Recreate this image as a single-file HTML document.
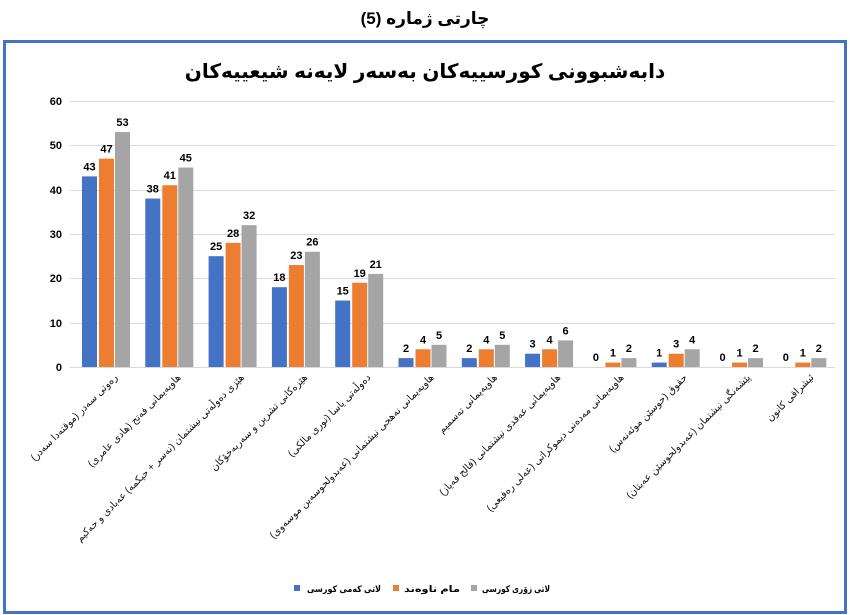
<!DOCTYPE html>
<html><head><meta charset="utf-8"><style>
body{margin:0;background:#fff;width:850px;height:615px;overflow:hidden}
svg{display:block}
text{font-family:"Liberation Sans","DejaVu Sans",sans-serif}
</style></head><body>
<svg width="850" height="615" xmlns="http://www.w3.org/2000/svg">
<text x="425" y="24" text-anchor="middle" font-size="17" font-weight="bold">چارتی ژمارە (5)</text>
<rect x="4.5" y="41.5" width="841" height="571" fill="#fff" stroke="#4472c4" stroke-width="3"/>
<text x="425" y="78" text-anchor="middle" font-size="20" font-weight="bold">دابەشبوونی کورسییەکان بەسەر لایەنە شیعییەکان</text>
<g stroke="#d9d9d9" stroke-width="1">
<line x1="70" x2="835" y1="101.5" y2="101.5"/>
<line x1="70" x2="835" y1="145.5" y2="145.5"/>
<line x1="70" x2="835" y1="190.5" y2="190.5"/>
<line x1="70" x2="835" y1="234.5" y2="234.5"/>
<line x1="70" x2="835" y1="278.5" y2="278.5"/>
<line x1="70" x2="835" y1="323.5" y2="323.5"/>
<line x1="70" x2="835" y1="367.5" y2="367.5"/>
</g>
<g font-size="11" font-weight="bold" text-anchor="end" fill="#000">
<text x="62" y="105">60</text><text x="62" y="149">50</text><text x="62" y="194">40</text>
<text x="62" y="238">30</text><text x="62" y="282">20</text><text x="62" y="327">10</text><text x="62" y="371">0</text>
</g>
<g id="bars"></g>
<g id="labels"></g>
<g font-size="9" font-weight="bold">
<rect x="294" y="585" width="6" height="6" fill="#4472c4"/>
<text x="381" y="592" text-anchor="end" textLength="74" lengthAdjust="spacingAndGlyphs">لاتی کەمی کورسی</text>
<rect x="393" y="585" width="6" height="6" fill="#ed7d31"/>
<text x="460" y="592" text-anchor="end" textLength="56" lengthAdjust="spacingAndGlyphs">مام ناوەند</text>
<rect x="471" y="585" width="6" height="6" fill="#a5a5a5"/>
<text x="550" y="592" text-anchor="end" textLength="68" lengthAdjust="spacingAndGlyphs">لاتی زۆری کورسی</text>
</g>
</svg>
<script>
var data=[[43,47,53],[38,41,45],[25,28,32],[18,23,26],[15,19,21],[2,4,5],[2,4,5],[3,4,6],[0,1,2],[1,3,4],[0,1,2],[0,1,2]];
var labels=["رەوتی سەدر (موقتەدا سەدر)","هاوپەیمانی فەتح (هادی عامری)","هێزی دەوڵەتی نیشتمان (نەسر + حیکمە) عەبادی و حەکیم","هێزەکانی تشرین و سەربەخۆکان","دەوڵەتی یاسا (نوری مالکی)","هاوپەیمانی نەهجی نیشتمانی (عەبدولحوسەین موسەوی)","هاوپەیمانی تەسمیم","هاوپەیمانی عەقدی نیشتمانی (فالح فەیاز)","هاوپەیمانی مەدەنی دیموکراتی (عەلی رەفیعی)","حقوق (حوسێن موئەنەس)","پێشەنگی نیشتمان (عەبدولحوسێن عەبتان)","ئیشراقی کانون"];
var cols=["#4472c4","#ed7d31","#a5a5a5"],offs=[-24,-7,9];
var ns="http://www.w3.org/2000/svg",b=document.getElementById("bars"),l=document.getElementById("labels");
for(var i=0;i<12;i++){var c=106+63.3*i;
for(var j=0;j<3;j++){var v=data[i][j],h=v*4.433,x=c+offs[j];
var r=document.createElementNS(ns,"rect");r.setAttribute("x",x);r.setAttribute("y",367-h);r.setAttribute("width",15);r.setAttribute("height",h);r.setAttribute("fill",cols[j]);b.appendChild(r);
var t=document.createElementNS(ns,"text");t.setAttribute("x",x+7.5);t.setAttribute("y",367-h-6);t.setAttribute("text-anchor","middle");t.setAttribute("font-size","11");t.setAttribute("font-weight","bold");t.textContent=v;b.appendChild(t);}
var tx=c+12,ty=378;var t=document.createElementNS(ns,"text");
t.setAttribute("x",tx);t.setAttribute("y",ty);t.setAttribute("font-size","10");t.setAttribute("text-anchor","end");
t.setAttribute("transform","rotate(-45 "+tx+" "+ty+")");t.setAttribute("fill","#111");
t.textContent=labels[i];l.appendChild(t);}
</script>
</body></html>
